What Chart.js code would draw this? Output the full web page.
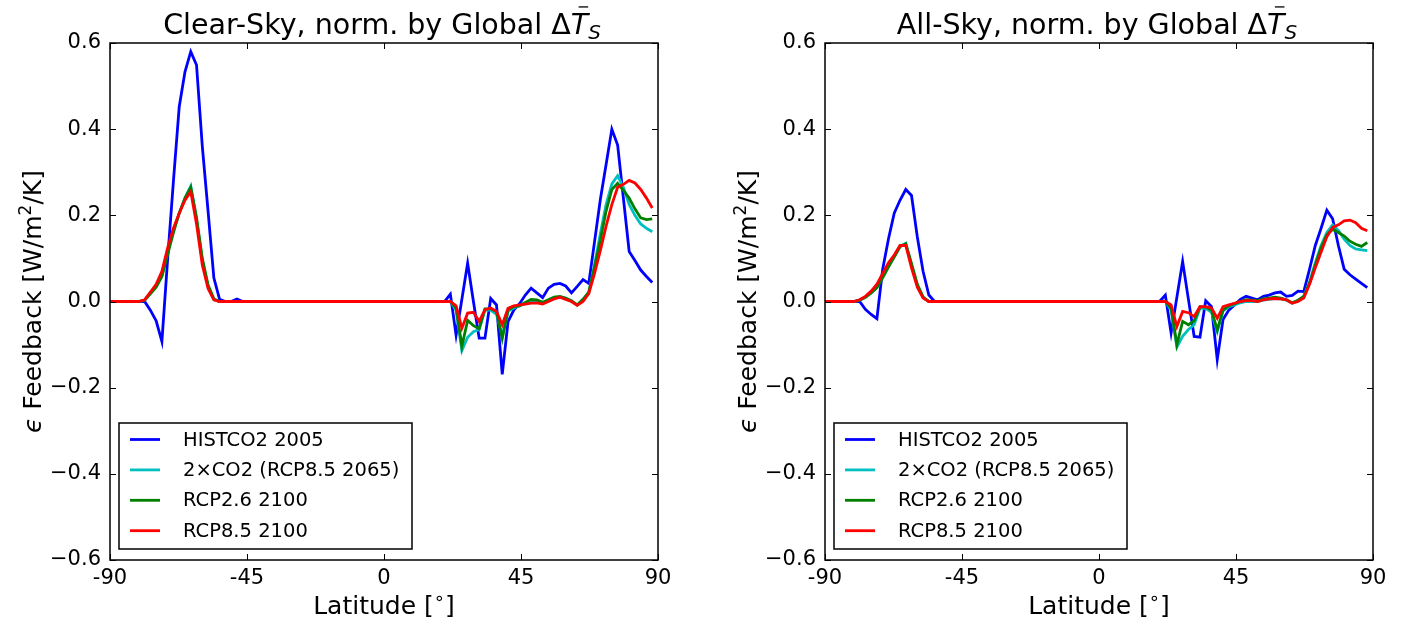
<!DOCTYPE html>
<html>
<head>
<meta charset="utf-8">
<script src="https://cdn.jsdelivr.net/npm/chart.js@4.4.1/dist/chart.umd.min.js"></script>
<style>
  html, body { margin: 0; padding: 0; background: #fff; }
  #wrap { position: relative; width: 1403px; height: 627px; overflow: hidden; }
  canvas { position: absolute; top: 0; }
</style>
</head>
<body>
<div id="wrap">
  <canvas id="clearChart" width="715" height="627" style="left:0"></canvas>
  <canvas id="allChart" width="688" height="627" style="left:715px"></canvas>
</div>
<script>
// latitude grid (deg), south cap then northern band; zeros in between
const latitude = [
  -90, -80.53, -78.63, -76.74, -74.84, -72.95, -71.05, -69.16, -67.26, -65.37, -63.47,
  -61.58, -59.68, -57.79, -55.89, -54.0, -52.1, -50.2, -48.3, -46.4, -44.5,
  19.89, 21.79, 23.68, 25.58, 27.47, 29.37, 31.26, 33.16, 35.05, 36.95, 38.84, 40.74,
  42.63, 44.53, 46.42, 48.32, 50.21, 52.11, 54.0, 55.89, 57.79, 59.68, 61.58, 63.47,
  65.37, 67.26, 69.16, 71.05, 72.95, 74.84, 76.74, 78.63, 80.53, 82.42, 84.32, 86.21, 88.11
];

// clear-sky feedback, W/m2/K
const clrHist = [
  0, 0, 0, -0.02, -0.045, -0.093, 0.10, 0.28, 0.452, 0.533, 0.58, 0.549, 0.36, 0.21, 0.055, 0.005, 0, 0, 0.006, 0, 0,
  0, 0.017, -0.078, 0.005, 0.089, 0.0, -0.085, -0.085, 0.007, -0.008, -0.169, -0.047, -0.02, -0.005, 0.015, 0.031,
  0.02, 0.009, 0.031, 0.04, 0.042, 0.036, 0.02, 0.035, 0.051, 0.042, 0.139, 0.236, 0.318, 0.40, 0.363, 0.24,
  0.116, 0.095, 0.073, 0.058, 0.044
];
const clr2x = [
  0, 0, 0.003, 0.02, 0.035, 0.06, 0.115, 0.165, 0.205, 0.24, 0.268, 0.19, 0.095, 0.035, 0.005, 0, 0, 0, 0, 0, 0,
  0, 0, -0.02, -0.114, -0.083, -0.07, -0.065, -0.02, -0.02, -0.03, -0.08, -0.022, -0.015, -0.01, -0.005, 0.0,
  -0.002, -0.004, 0.003, 0.008, 0.01, 0.007, 0.0, -0.008, 0.005, 0.02, 0.085, 0.157, 0.225, 0.273, 0.292, 0.265,
  0.225, 0.2, 0.18, 0.17, 0.162
];
const clr26 = [
  0, 0, 0.003, 0.018, 0.033, 0.058, 0.11, 0.16, 0.205, 0.24, 0.265, 0.195, 0.1, 0.038, 0.006, 0, 0, 0, 0, 0, 0,
  0, 0, -0.015, -0.104, -0.044, -0.056, -0.063, -0.017, -0.017, -0.023, -0.086, -0.02, -0.012, -0.01, -0.002, 0.005,
  0.004, -0.002, 0.004, 0.01, 0.012, 0.008, 0.002, -0.008, 0.005, 0.022, 0.08, 0.142, 0.21, 0.26, 0.274, 0.258,
  0.24, 0.215, 0.194, 0.19, 0.192
];
const clr85 = [
  0, 0, 0.004, 0.022, 0.04, 0.07, 0.125, 0.17, 0.205, 0.235, 0.255, 0.18, 0.085, 0.03, 0.004, 0, 0, 0, 0, 0, 0,
  0, 0, -0.01, -0.062, -0.027, -0.025, -0.046, -0.019, -0.015, -0.023, -0.054, -0.016, -0.01, -0.008, -0.006, -0.004,
  -0.003, -0.006, 0.0, 0.006, 0.01, 0.005, 0.0, -0.009, 0.0, 0.018, 0.065, 0.118, 0.175, 0.225, 0.265, 0.272,
  0.281, 0.275, 0.26, 0.24, 0.217
];

// all-sky feedback, W/m2/K
const allHist = [
  0, 0, 0, -0.018, -0.03, -0.04, 0.075, 0.145, 0.205, 0.235, 0.26, 0.246, 0.15, 0.07, 0.015, 0, 0, 0, 0, 0, 0,
  0, 0.015, -0.073, 0.01, 0.093, 0.005, -0.081, -0.083, 0.002, -0.012, -0.135, -0.042, -0.02, -0.008, 0.005, 0.012,
  0.008, 0.004, 0.012, 0.015, 0.02, 0.022, 0.012, 0.014, 0.024, 0.023, 0.075, 0.13, 0.17, 0.212, 0.192, 0.13,
  0.075, 0.062, 0.052, 0.042, 0.032
];
const all2x = [
  0, 0, 0.003, 0.01, 0.02, 0.033, 0.058, 0.083, 0.105, 0.128, 0.135, 0.085, 0.038, 0.01, 0, 0, 0, 0, 0, 0, 0,
  0, 0, -0.02, -0.106, -0.081, -0.065, -0.054, -0.016, -0.016, -0.025, -0.07, -0.022, -0.012, -0.008, -0.003, 0,
  0, 0, 0.003, 0.005, 0.007, 0.006, 0.003, -0.004, 0.002, 0.012, 0.045, 0.09, 0.13, 0.16, 0.178, 0.165,
  0.145, 0.13, 0.122, 0.12, 0.118
];
const all26 = [
  0, 0, 0.003, 0.01, 0.02, 0.032, 0.055, 0.08, 0.103, 0.127, 0.134, 0.088, 0.04, 0.01, 0, 0, 0, 0, 0, 0, 0,
  0, 0, -0.015, -0.1, -0.046, -0.054, -0.045, -0.012, -0.013, -0.02, -0.066, -0.02, -0.01, -0.005, 0, 0.004,
  0.003, 0.002, 0.006, 0.008, 0.01, 0.008, 0.004, -0.003, 0.003, 0.012, 0.042, 0.085, 0.125, 0.155, 0.167, 0.16,
  0.152, 0.14, 0.133, 0.128, 0.137
];
const all85 = [
  0, 0, 0.004, 0.012, 0.024, 0.04, 0.065, 0.09, 0.108, 0.13, 0.13, 0.078, 0.033, 0.008, 0, 0, 0, 0, 0, 0, 0,
  0, 0, -0.008, -0.058, -0.023, -0.026, -0.035, -0.012, -0.012, -0.015, -0.039, -0.012, -0.008, -0.004, 0, 0.002,
  0.002, 0, 0.004, 0.006, 0.007, 0.006, 0.004, -0.004, 0, 0.008, 0.04, 0.078, 0.115, 0.15, 0.172, 0.178,
  0.187, 0.189, 0.183, 0.17, 0.164
];

const seriesNames = ["HISTCO2 2005", "2\u00d7CO2 (RCP8.5 2065)", "RCP2.6 2100", "RCP8.5 2100"];
const lineColors = ["#0000ff", "#00bfbf", "#008000", "#ff0000"];

const xTickValues = [-90, -45, 0, 45, 90];
const xTickLabels = ["-90", "-45", "0", "45", "90"];
const yTickValues = [-0.6, -0.4, -0.2, 0, 0.2, 0.4, 0.6];
const yTickLabels = ["\u22120.6", "\u22120.4", "\u22120.2", "0.0", "0.2", "0.4", "0.6"];

const FONT = "DejaVu Sans";

function fontOf(p) {
    return (p.italic ? "italic " : "") + p.size + "px '" + FONT + "'";
}

// draws a row of text pieces centred on x, baseline y
function richText(ctx, parts, x, y) {
    let total = 0;
    parts.forEach((p) => {
        ctx.font = fontOf(p);
        p.w = ctx.measureText(p.t).width;
        total += p.w;
    });
    let cx = x - total / 2;
    ctx.textAlign = "left";
    ctx.textBaseline = "alphabetic";
    parts.forEach((p) => {
        ctx.font = fontOf(p);
        ctx.fillText(p.t, cx, y + (p.dy || 0));
        if (p.bar) {
            ctx.beginPath();
            ctx.lineWidth = 1.3;
            ctx.moveTo(cx + p.w * 0.45, y - p.size * 0.95);
            ctx.lineTo(cx + p.w * 1.0, y - p.size * 0.95);
            ctx.stroke();
        }
        cx += p.w;
    });
}

// frame, inward ticks, title, axis labels and legend
const axesDecor = {
    id: "axesDecor",
    afterDraw(chart, args, opts) {
        const ctx = chart.ctx;
        const a = chart.chartArea;
        const xs = chart.scales.x;
        const ys = chart.scales.y;
        ctx.save();
        ctx.strokeStyle = "#000";
        ctx.fillStyle = "#000";

        ctx.lineWidth = 1.5;
        ctx.strokeRect(a.left, a.top, a.right - a.left, a.bottom - a.top);

        const tl = 6;
        ctx.lineWidth = 1;
        ctx.beginPath();
        xTickValues.forEach((v) => {
            const px = Math.round(xs.getPixelForValue(v)) + 0.5;
            ctx.moveTo(px, a.bottom); ctx.lineTo(px, a.bottom - tl);
            ctx.moveTo(px, a.top); ctx.lineTo(px, a.top + tl);
        });
        yTickValues.forEach((v) => {
            const py = Math.round(ys.getPixelForValue(v)) + 0.5;
            ctx.moveTo(a.left, py); ctx.lineTo(a.left + tl, py);
            ctx.moveTo(a.right, py); ctx.lineTo(a.right - tl, py);
        });
        ctx.stroke();

        const midX = (a.left + a.right) / 2;
        richText(ctx, [
            { t: opts.title + " ", size: 28.5 },
            { t: "\u0394", size: 28.5 },
            { t: "T", size: 28.5, italic: true, bar: true },
            { t: "S", size: 20, italic: true, dy: 5 }
        ], midX - 2, 34);

        richText(ctx, [
            { t: "Latitude [", size: 25 },
            { t: "\u2218", size: 18, dy: -10 },
            { t: "]", size: 25 }
        ], midX, 614);

        ctx.save();
        ctx.translate(41, (a.top + a.bottom) / 2);
        ctx.rotate(-Math.PI / 2);
        richText(ctx, [
            { t: "\u03f5", size: 25, italic: true },
            { t: " Feedback [W/m", size: 25 },
            { t: "2", size: 17, dy: -10 },
            { t: "/K]", size: 25 }
        ], 0, 0);
        ctx.restore();

        // legend box, lower left
        const lx = a.left + 9, ly = a.bottom - 137, lw = 293, lh = 126;
        ctx.fillStyle = "#fff";
        ctx.fillRect(lx, ly, lw, lh);
        ctx.lineWidth = 1.5;
        ctx.strokeRect(lx, ly, lw, lh);
        ctx.font = "19.5px '" + FONT + "'";
        ctx.textAlign = "left";
        ctx.textBaseline = "middle";
        seriesNames.forEach((name, i) => {
            const ry = ly + 16.5 + i * 30.4;
            ctx.strokeStyle = lineColors[i];
            ctx.lineWidth = 2.8;
            ctx.beginPath();
            ctx.moveTo(lx + 11, ry);
            ctx.lineTo(lx + 41, ry);
            ctx.stroke();
            ctx.fillStyle = "#000";
            ctx.fillText(name, lx + 64, ry + 1);
        });
        ctx.restore();
    }
};

function makeChart(canvasId, title, series) {
    const canvas = document.getElementById(canvasId);
    new Chart(canvas, {
        type: "line",
        data: {
            datasets: series.map((vals, i) => ({
                label: seriesNames[i],
                data: latitude.map((lat, j) => ({ x: lat, y: vals[j] })),
                borderColor: lineColors[i],
                borderWidth: 2.8,
                pointRadius: 0,
                fill: false,
                tension: 0,
                order: series.length - i
            }))
        },
        options: {
            responsive: false,
            animation: false,
            devicePixelRatio: 1,
            layout: { padding: { left: 0, top: 43, right: canvas.width - 658, bottom: 0 } },
            plugins: {
                legend: { display: false },
                tooltip: { enabled: false },
                title: { display: false },
                axesDecor: { title: title }
            },
            scales: {
                x: {
                    type: "linear",
                    min: -90,
                    max: 90,
                    grid: { display: false, drawTicks: false },
                    border: { display: false },
                    afterBuildTicks: (sc) => { sc.ticks = xTickValues.map((v) => ({ value: v })); },
                    afterFit: (sc) => { sc.height = 67; },
                    ticks: {
                        padding: 6,
                        color: "#000",
                        maxRotation: 0,
                        autoSkip: false,
                        font: { family: FONT, size: 21 },
                        callback: (v) => xTickLabels[xTickValues.indexOf(v)]
                    }
                },
                y: {
                    type: "linear",
                    min: -0.6,
                    max: 0.6,
                    grid: { display: false, drawTicks: false },
                    border: { display: false },
                    afterBuildTicks: (sc) => { sc.ticks = yTickValues.map((v) => ({ value: v })); },
                    afterFit: (sc) => { sc.width = 110; },
                    ticks: {
                        padding: 9,
                        color: "#000",
                        font: { family: FONT, size: 21 },
                        callback: (v) => yTickLabels[yTickValues.indexOf(v)]
                    }
                }
            }
        },
        plugins: [axesDecor]
    });
}

makeChart("clearChart", "Clear-Sky, norm. by Global", [clrHist, clr2x, clr26, clr85]);
makeChart("allChart", "All-Sky, norm. by Global", [allHist, all2x, all26, all85]);
</script>
</body>
</html>
